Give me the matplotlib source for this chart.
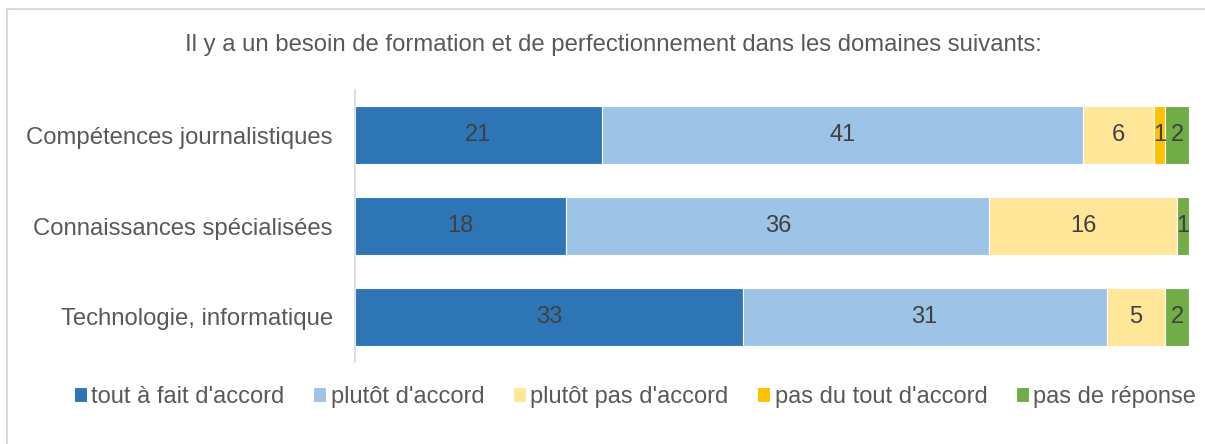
import matplotlib.pyplot as plt
from matplotlib.patches import Rectangle
import numpy as np

plt.rcParams['font.family'] = ['Liberation Sans', 'DejaVu Sans']

categories = ["Compétences journalistiques", "Connaissances spécialisées", "Technologie, informatique"]
series_names = ["tout à fait d'accord", "plutôt d'accord", "plutôt pas d'accord", "pas du tout d'accord", "pas de réponse"]
values = [
    [21, 18, 33],  # tout à fait d'accord
    [41, 36, 31],  # plutôt d'accord
    [6, 16, 5],    # plutôt pas d'accord
    [1, 0, 0],     # pas du tout d'accord
    [2, 1, 2],     # pas de réponse
]
colors = ['#2E75B6', '#9DC3E6', '#FFE699', '#FFC000', '#70AD47']
title = "Il y a un besoin de formation et de perfectionnement dans les domaines suivants:"

fig = plt.figure(figsize=(12.05, 4.44), dpi=100)
ax = fig.add_axes([0.2946, 0.1847, 0.6921, 0.6123])

# light grey frame around the chart area
fig.patches.append(Rectangle((7 / 1205, -0.05), 1.1, 1 - 9 / 444 + 0.05, transform=fig.transFigure,
                             fill=False, edgecolor='#D9D9D9', linewidth=1.5))

y = np.arange(len(categories))
left = np.zeros(len(categories))
for name, vals, col in zip(series_names, values, colors):
    vals = np.array(vals, dtype=float)
    bars = ax.barh(y, vals, left=left, height=0.64, color=col, edgecolor='white', linewidth=0.8, label=name)
    labels = [str(int(v)) if v > 0 else '' for v in vals]
    ax.bar_label(bars, labels=labels, label_type='center', color='#404040', fontsize=17)
    left += vals

ax.set_xlim(0, left.max())
ax.set_ylim(2.5, -0.5)
ax.set_yticks(y)
ax.set_yticklabels(categories, fontsize=17.2, color='#595959')
ax.tick_params(axis='y', length=0, pad=16)
ax.set_xticks([])
for side in ['top', 'right', 'bottom']:
    ax.spines[side].set_visible(False)
ax.spines['left'].set_color('#D9D9D9')
ax.spines['left'].set_linewidth(1.2)

fig.text(0.509, 1 - 45 / 444, title, ha='center', va='center', fontsize=17.2, color='#595959')

fig.legend(loc='center', bbox_to_anchor=(0.527, 1 - 397 / 444), ncol=5, frameon=False,
           fontsize=17, labelcolor='#595959', handlelength=0.55, handleheight=0.6,
           handletextpad=0.2, columnspacing=1.2)

fig.savefig('out.png', dpi=100, facecolor='white')
